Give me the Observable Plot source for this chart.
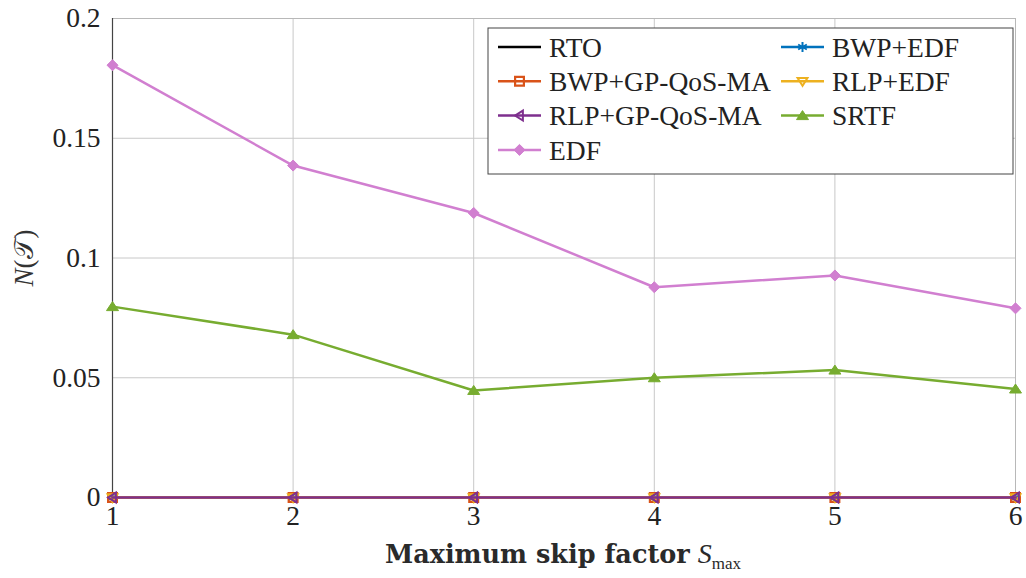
<!DOCTYPE html>
<html>
<head>
<meta charset="utf-8">
<script src="https://cdn.jsdelivr.net/npm/d3@7"></script>
<script src="https://cdn.jsdelivr.net/npm/@observablehq/plot@0.6"></script>
<style>
  html, body { margin: 0; padding: 0; background: #fff; }
  #wrap { position: relative; width: 1026px; height: 578px; font-family: "Liberation Serif", "DejaVu Serif", serif; }
  #xlabel { position: absolute; left: 0; width: 1126px; top: 538px; text-align: center; font-size: 25.5px; color: #2a2a2a; font-family: "DejaVu Serif", serif; }
  #ylabel { position: absolute; left: -5px; top: 258px; transform: translate(0, -50%) rotate(-90deg); transform-origin: center; font-size: 27px; color: #333; white-space: nowrap; }
</style>
</head>
<body>
<div id="wrap">
  <div id="chart"></div>
  <div id="xlabel"><b>Maximum skip factor</b> <i style="font-family:'Liberation Serif',serif;font-size:28px">S</i><sub style="font-size:17px;font-family:'Liberation Serif',serif">max</sub></div>
  <div id="ylabel"><i>N</i>(<span style="font-family:'DejaVu Sans',serif">𝒯</span>)</div>
</div>
<script>
// ---- data ----
const skipFactors = [1, 2, 3, 4, 5, 6];
const xTicks = [1, 2, 3, 4, 5, 6];
const yTicks = [0, 0.05, 0.1, 0.15, 0.2];
const seriesNames = ["RTO", "BWP+EDF", "BWP+GP-QoS-MA", "RLP+EDF", "RLP+GP-QoS-MA", "SRTF", "EDF"];
const rto       = [0, 0, 0, 0, 0, 0];
const bwpEdf    = [0, 0, 0, 0, 0, 0];
const bwpGp     = [0, 0, 0, 0, 0, 0];
const rlpEdf    = [0, 0, 0, 0, 0, 0];
const rlpGp     = [0, 0, 0, 0, 0, 0];
const srtf      = [0.0797, 0.0680, 0.0447, 0.0500, 0.0532, 0.0453];
const edf       = [0.1805, 0.1386, 0.1188, 0.0878, 0.0927, 0.0790];
const seriesValues = [rto, bwpEdf, bwpGp, rlpEdf, rlpGp, srtf, edf];
const seriesColors = ["#000000", "#0072BD", "#D95319", "#EDB120", "#7E2F8E", "#77AC30", "#D17FD0"];

// ---- custom marker shapes ----
const triDown = { draw(ctx, size) { const r = Math.sqrt(size / Math.PI);
  ctx.moveTo(0, r * 1.0); ctx.lineTo(-r * 1.1, -r * 0.75); ctx.lineTo(r * 1.1, -r * 0.75); ctx.closePath(); } };
const triLeft = { draw(ctx, size) { const r = Math.sqrt(size / Math.PI);
  ctx.moveTo(-r * 1.0, 0); ctx.lineTo(r * 0.75, -r * 1.1); ctx.lineTo(r * 0.75, r * 1.1); ctx.closePath(); } };
const sq = { draw(ctx, size) { const r = Math.sqrt(size / Math.PI);
  ctx.rect(-r, -r, 2 * r, 2 * r); } };
const triUp = { draw(ctx, size) { const r = Math.sqrt(size / Math.PI);
  ctx.moveTo(0, -r * 1.0); ctx.lineTo(-r * 1.2, r * 0.8); ctx.lineTo(r * 1.2, r * 0.8); ctx.closePath(); } };
const diam = { draw(ctx, size) { const r = Math.sqrt(size / Math.PI);
  ctx.moveTo(0, -r * 1.2); ctx.lineTo(r * 1.2, 0); ctx.lineTo(0, r * 1.2); ctx.lineTo(-r * 1.2, 0); ctx.closePath(); } };
const ast = { draw(ctx, size) { const r = Math.sqrt(size / Math.PI);
  for (let k = 0; k < 3; k++) { const a = Math.PI / 2 + k * Math.PI / 3;
    ctx.moveTo(r * Math.cos(a), r * Math.sin(a)); ctx.lineTo(-r * Math.cos(a), -r * Math.sin(a)); } } };

const markerStyle = [
  null,
  { symbol: ast,     r: 5,   fill: "none", strokeWidth: 2 },
  { symbol: sq,      r: 4.4, fill: "none", strokeWidth: 2.2 },
  { symbol: triDown, r: 4.5, fill: "none", strokeWidth: 2 },
  { symbol: triLeft, r: 4.5, fill: "none", strokeWidth: 2 },
  { symbol: triUp,   r: 5,   fill: "same", strokeWidth: 1 },
  { symbol: diam,    r: 4.6, fill: "same", strokeWidth: 1 }
];

const rows = [];
seriesNames.forEach((name, i) => skipFactors.forEach((x, j) => rows.push({ series: name, x, y: seriesValues[i][j] })));

const serif = "'Liberation Serif', 'DejaVu Serif', serif";
const marks = [
  Plot.gridX(xTicks, { stroke: "#c8c8c8", strokeOpacity: 1, strokeWidth: 1 }),
  Plot.gridY(yTicks, { stroke: "#c8c8c8", strokeOpacity: 1, strokeWidth: 1 }),
  Plot.frame({ stroke: "#b8b8b8" }),
  Plot.ruleX([1], { stroke: "#444", strokeWidth: 1.2 }),
  Plot.axisX(xTicks, { tickSize: 0, tickPadding: 8, fontSize: 27.5, fill: "#222", label: null, tickFormat: d => String(d) }),
  Plot.axisY(yTicks, { tickSize: 0, tickPadding: 12, fontSize: 27.5, fill: "#222", label: null, tickFormat: d => String(d) })
];
seriesNames.forEach((name, i) => {
  const data = rows.filter(d => d.series === name);
  const c = seriesColors[i];
  marks.push(Plot.line(data, { x: "x", y: "y", stroke: c, strokeWidth: i === 0 ? 2 : 2.5 }));
  const m = markerStyle[i];
  if (m) marks.push(Plot.dot(data, { x: "x", y: "y", symbol: m.symbol, r: m.r, stroke: c,
    fill: m.fill === "same" ? c : "none", strokeWidth: m.strokeWidth }));
});

const chart = Plot.plot({
  width: 1026, height: 578,
  marginLeft: 112, marginRight: 11, marginTop: 18, marginBottom: 81,
  style: `font-family: ${serif}; font-size: 27.5px; background: #fff; overflow: visible;`,
  x: { domain: [1, 6], label: null, axis: null },
  y: { domain: [0, 0.2], label: null, axis: null },
  marks
});
document.getElementById("chart").appendChild(chart);
d3.select(chart).selectAll("text").attr("font-family", serif);

// ---- legend (two columns, row-major) ----
const svg = d3.select(chart);
const lg = svg.append("g").attr("transform", "translate(488,28)").attr("font-family", serif).attr("text-anchor", "start");
lg.append("rect").attr("width", 525).attr("height", 146).attr("fill", "#fff").attr("stroke", "#444").attr("stroke-width", 1);
seriesNames.forEach((name, i) => {
  const col = i % 2, row = Math.floor(i / 2);
  const g = lg.append("g").attr("transform", `translate(${10 + col * 283},${19 + row * 34.3})`);
  g.append("line").attr("x1", 0).attr("x2", 43).attr("stroke", seriesColors[i]).attr("stroke-width", 2.5);
  const m = markerStyle[i];
  if (m) g.append("path").attr("transform", "translate(21.5,0)")
    .attr("d", d3.symbol(m.symbol, Math.PI * m.r * m.r)())
    .attr("stroke", seriesColors[i]).attr("stroke-width", m.strokeWidth)
    .attr("fill", m.fill === "same" ? seriesColors[i] : "none");
  g.append("text").attr("x", 51).attr("dy", "0.35em").attr("font-size", 27.5).attr("fill", "#222")
    .attr("text-anchor", "start").text(name);
});
</script>
</body>
</html>
